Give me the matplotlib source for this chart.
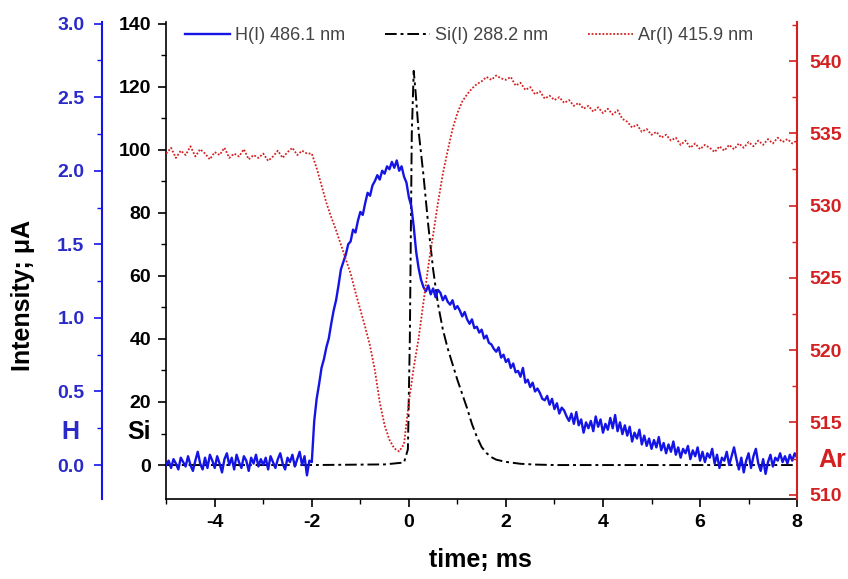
import matplotlib
matplotlib.use('Agg')
import matplotlib.pyplot as plt
from matplotlib.ticker import MultipleLocator, FixedLocator
import numpy as np

plt.rcParams['font.family'] = ['Liberation Sans', 'DejaVu Sans']
plt.rcParams['axes.unicode_minus'] = False

# H(I) 486.1 nm intensity (uA), sampled every 0.05 ms from -5 to 8 ms
h_vals = [
    0.00, 0.03, -0.02, 0.04, 0.01, -0.03, 0.05, 0.02, -0.01, 0.06,
    0.00, -0.04, 0.03, 0.09, 0.01, -0.03, 0.05, -0.02, 0.07, 0.03,
    -0.02, 0.06, 0.01, -0.05, 0.04, 0.08, 0.00, 0.05, -0.03, 0.07,
    0.02, -0.02, 0.06, 0.03, -0.04, 0.05, 0.01, 0.07, -0.01, 0.04,
    0.00, 0.05, -0.03, 0.06, 0.02, -0.02, 0.04, 0.08, 0.01, -0.03,
    0.05, 0.02, 0.07, -0.01, 0.04, 0.09, 0.00, 0.06, -0.07, 0.03,
    0.02, 0.30, 0.45, 0.55, 0.66, 0.72, 0.80, 0.86, 0.96, 1.05,
    1.12, 1.22, 1.33, 1.38, 1.43, 1.50, 1.52, 1.60, 1.58, 1.66,
    1.72, 1.70, 1.78, 1.85, 1.83, 1.90, 1.93, 1.97, 1.94, 2.00,
    1.98, 2.03, 2.01, 2.06, 2.02, 2.07, 2.00, 2.03, 1.96, 1.92,
    1.82, 1.76, 1.62, 1.45, 1.34, 1.26, 1.21, 1.18, 1.22, 1.16,
    1.20, 1.14, 1.19, 1.17, 1.12, 1.15, 1.11, 1.09, 1.12, 1.06,
    1.08, 1.05, 1.01, 1.04, 0.99, 0.96, 0.99, 0.93, 0.94, 0.90,
    0.92, 0.86, 0.88, 0.83, 0.82, 0.79, 0.77, 0.80, 0.73, 0.75,
    0.70, 0.72, 0.66, 0.69, 0.63, 0.64, 0.60, 0.66, 0.56, 0.58,
    0.53, 0.56, 0.50, 0.52, 0.49, 0.45, 0.44, 0.47, 0.41, 0.45,
    0.38, 0.42, 0.35, 0.39, 0.37, 0.33, 0.30, 0.35, 0.28, 0.36,
    0.27, 0.31, 0.22, 0.29, 0.25, 0.30, 0.23, 0.33, 0.26, 0.31,
    0.22, 0.28, 0.24, 0.32, 0.25, 0.34, 0.23, 0.29, 0.21, 0.27,
    0.20, 0.26, 0.16, 0.22, 0.18, 0.24, 0.14, 0.20, 0.13, 0.18,
    0.11, 0.17, 0.12, 0.19, 0.10, 0.15, 0.08, 0.14, 0.09, 0.16,
    0.07, 0.12, 0.05, 0.11, 0.08, 0.13, 0.04, 0.10, 0.06, 0.12,
    0.03, 0.09, 0.02, 0.08, 0.05, 0.11, 0.01, 0.07, -0.02, 0.05,
    0.03, 0.09, 0.00, 0.06, 0.12, 0.04, -0.03, 0.05, -0.05, 0.03,
    0.08, -0.02, 0.06, 0.11, 0.01, -0.04, 0.04, -0.06, 0.02, 0.07,
    -0.01, 0.05, 0.03, 0.08, 0.02, 0.06, 0.01, 0.07, 0.03, 0.08,
    0.05,
]
h_t = -5.0 + 0.05 * np.arange(len(h_vals))

# Ar(I) 415.9 nm (right axis), sampled every 0.1 ms from -5 to 8 ms
ar_vals = [
    533.6, 534.0, 533.3, 533.8, 533.5, 534.1, 533.4, 533.9, 533.6, 533.2,
    533.7, 533.5, 534.0, 533.3, 533.6, 533.4, 533.9, 533.2, 533.5, 533.3,
    533.6, 533.1, 533.4, 533.8, 533.3, 533.7, 534.0, 533.5, 533.8, 533.6,
    533.6, 532.6, 531.4, 530.2, 529.2, 528.3, 527.3, 526.3, 525.3, 524.0,
    522.8, 521.6, 520.3, 518.6, 516.4, 514.8, 513.8, 513.2, 513.0, 513.5,
    516.4, 518.8, 520.8, 523.3, 525.8, 528.0, 530.2, 532.2, 533.8, 535.3,
    536.4, 537.2, 537.7, 538.1, 538.4, 538.6, 538.9, 538.7, 539.0, 538.8,
    538.7, 538.9, 538.3, 538.5, 538.0, 538.2, 537.7, 537.9, 537.4, 537.6,
    537.3, 537.5, 537.1, 537.3, 536.9, 537.1, 536.7, 536.9, 536.5, 536.8,
    536.4, 536.7, 536.3, 536.6, 536.0, 535.8, 535.4, 535.6, 535.1, 535.3,
    534.9, 535.1, 534.7, 534.9, 534.5, 534.7, 534.2, 534.5, 534.0, 534.3,
    533.9, 534.2, 534.0, 533.7, 534.1, 533.8, 534.2, 533.9, 534.3, 534.0,
    534.4, 534.1, 534.5, 534.2, 534.6, 534.3, 534.7, 534.4, 534.6, 534.3,
    534.5,
]
ar_t = -5.0 + 0.1 * np.arange(len(ar_vals))

# Si(I) 288.2 nm, smooth trace on its own time points
si_t = [-5.0, -2.0, -0.5, -0.1, -0.02, 0.02, 0.06, 0.1, 0.14, 0.2, 0.3, 0.4,
        0.5, 0.6, 0.7, 0.8, 0.9, 1.0, 1.1, 1.2, 1.3, 1.4, 1.5, 1.6, 1.7, 1.8,
        2.0, 2.3, 2.6, 3.0, 5.0, 8.0]
si_vals = [0, 0, 0.2, 0.8, 5, 40, 105, 125, 118, 106, 92, 76,
           62, 51, 43, 37, 32, 27, 22.5, 18, 13, 9, 5.7, 3.8, 2.5, 1.7,
           1.0, 0.4, 0.15, 0, 0, 0]

blue = '#1414e6'
blue_txt = '#2a2ac8'
red = '#d42020'

fig = plt.figure(figsize=(8.48, 5.79), dpi=100)
ax = fig.add_axes([0.196, 0.138, 0.744, 0.824])

# Si on the main (inner left) axis
si_line, = ax.plot(si_t, si_vals, color='black', lw=1.4, ls=(0, (6, 2, 1.5, 2)),
                   zorder=2)
ax.set_xlim(-5, 8)
ax.set_ylim(-10.8, 140.5)
ax.spines['top'].set_visible(False)
ax.spines['right'].set_visible(False)
ax.xaxis.set_major_locator(MultipleLocator(2))
ax.xaxis.set_minor_locator(MultipleLocator(1))
ax.yaxis.set_major_locator(FixedLocator([0, 20, 40, 60, 80, 100, 120, 140]))
ax.yaxis.set_minor_locator(FixedLocator([10, 30, 50, 70, 90, 110, 130]))
ax.tick_params(axis='both', which='major', length=6, width=1.2, labelsize=14, pad=5)
ax.tick_params(axis='both', which='minor', length=3.5, width=1.0)
for lab in ax.get_xticklabels() + ax.get_yticklabels():
    lab.set_fontweight('bold')
for s in ['left', 'bottom']:
    ax.spines[s].set_linewidth(1.2)

# H on an outer left axis
axh = ax.twinx()
axh.set_ylim(-10.8 * 3 / 140, 140.5 * 3 / 140)
axh.spines['left'].set_position(('axes', -0.101))
axh.spines['left'].set_visible(True)
axh.spines['left'].set_color(blue)
axh.spines['left'].set_linewidth(1.5)
for s in ['right', 'top', 'bottom']:
    axh.spines[s].set_visible(False)
axh.yaxis.set_ticks_position('left')
axh.yaxis.set_label_position('left')
axh.yaxis.set_major_locator(FixedLocator([0, 0.5, 1.0, 1.5, 2.0, 2.5, 3.0]))
axh.yaxis.set_minor_locator(FixedLocator([0.25, 0.75, 1.25, 1.75, 2.25, 2.75]))
axh.yaxis.set_major_formatter(plt.FormatStrFormatter('%.1f'))
axh.tick_params(axis='y', which='major', length=6, width=1.2, colors=blue,
                labelcolor=blue_txt, labelsize=14, pad=7)
axh.tick_params(axis='y', which='minor', length=3.5, width=1.0, colors=blue)
for lab in axh.get_yticklabels():
    lab.set_fontweight('bold')
h_line, = axh.plot(h_t, h_vals, color=blue, lw=1.7, zorder=3)

# Ar on the right axis
axa = ax.twinx()
axa.set_ylim(509.7, 542.7)
for s in ['left', 'top', 'bottom']:
    axa.spines[s].set_visible(False)
axa.spines['right'].set_color(red)
axa.spines['right'].set_linewidth(1.5)
axa.yaxis.set_major_locator(MultipleLocator(5))
axa.yaxis.set_minor_locator(MultipleLocator(2.5))
axa.tick_params(axis='y', which='major', direction='in', length=6, width=1.2,
                colors=red, labelsize=14, pad=9)
axa.tick_params(axis='y', which='minor', direction='in', length=3.5, width=1.0, colors=red)
for lab in axa.get_yticklabels():
    lab.set_fontweight('bold')
ar_line, = axa.plot(ar_t, ar_vals, color=red, lw=1.3, ls=(0, (1, 1)), zorder=2)

leg = fig.legend([h_line, si_line, ar_line],
                 ['H(I) 486.1 nm', 'Si(I) 288.2 nm', 'Ar(I) 415.9 nm'],
                 loc='center left', bbox_to_anchor=(185 / 848, 1 - 36 / 579), ncol=3,
                 frameon=False, fontsize=13, handlelength=2.5, columnspacing=2.2,
                 handletextpad=0.28, borderpad=0, borderaxespad=0)
for txt in leg.get_texts():
    txt.set_color('#444444')

fig.text(0.027, 0.49, 'Intensity; μA', rotation=90, ha='center', va='center',
         fontsize=18, fontweight='bold')
fig.text(0.083, 0.254, 'H', color=blue_txt, ha='center', va='center',
         fontsize=18, fontweight='bold')
fig.text(0.164, 0.254, 'Si', color='black', ha='center', va='center',
         fontsize=18, fontweight='bold')
fig.text(0.981, 0.205, 'Ar', color=red, ha='center', va='center',
         fontsize=18, fontweight='bold')
fig.text(0.567, 0.033, 'time; ms', ha='center', va='center',
         fontsize=18, fontweight='bold')

fig.savefig('out.png', dpi=100)
